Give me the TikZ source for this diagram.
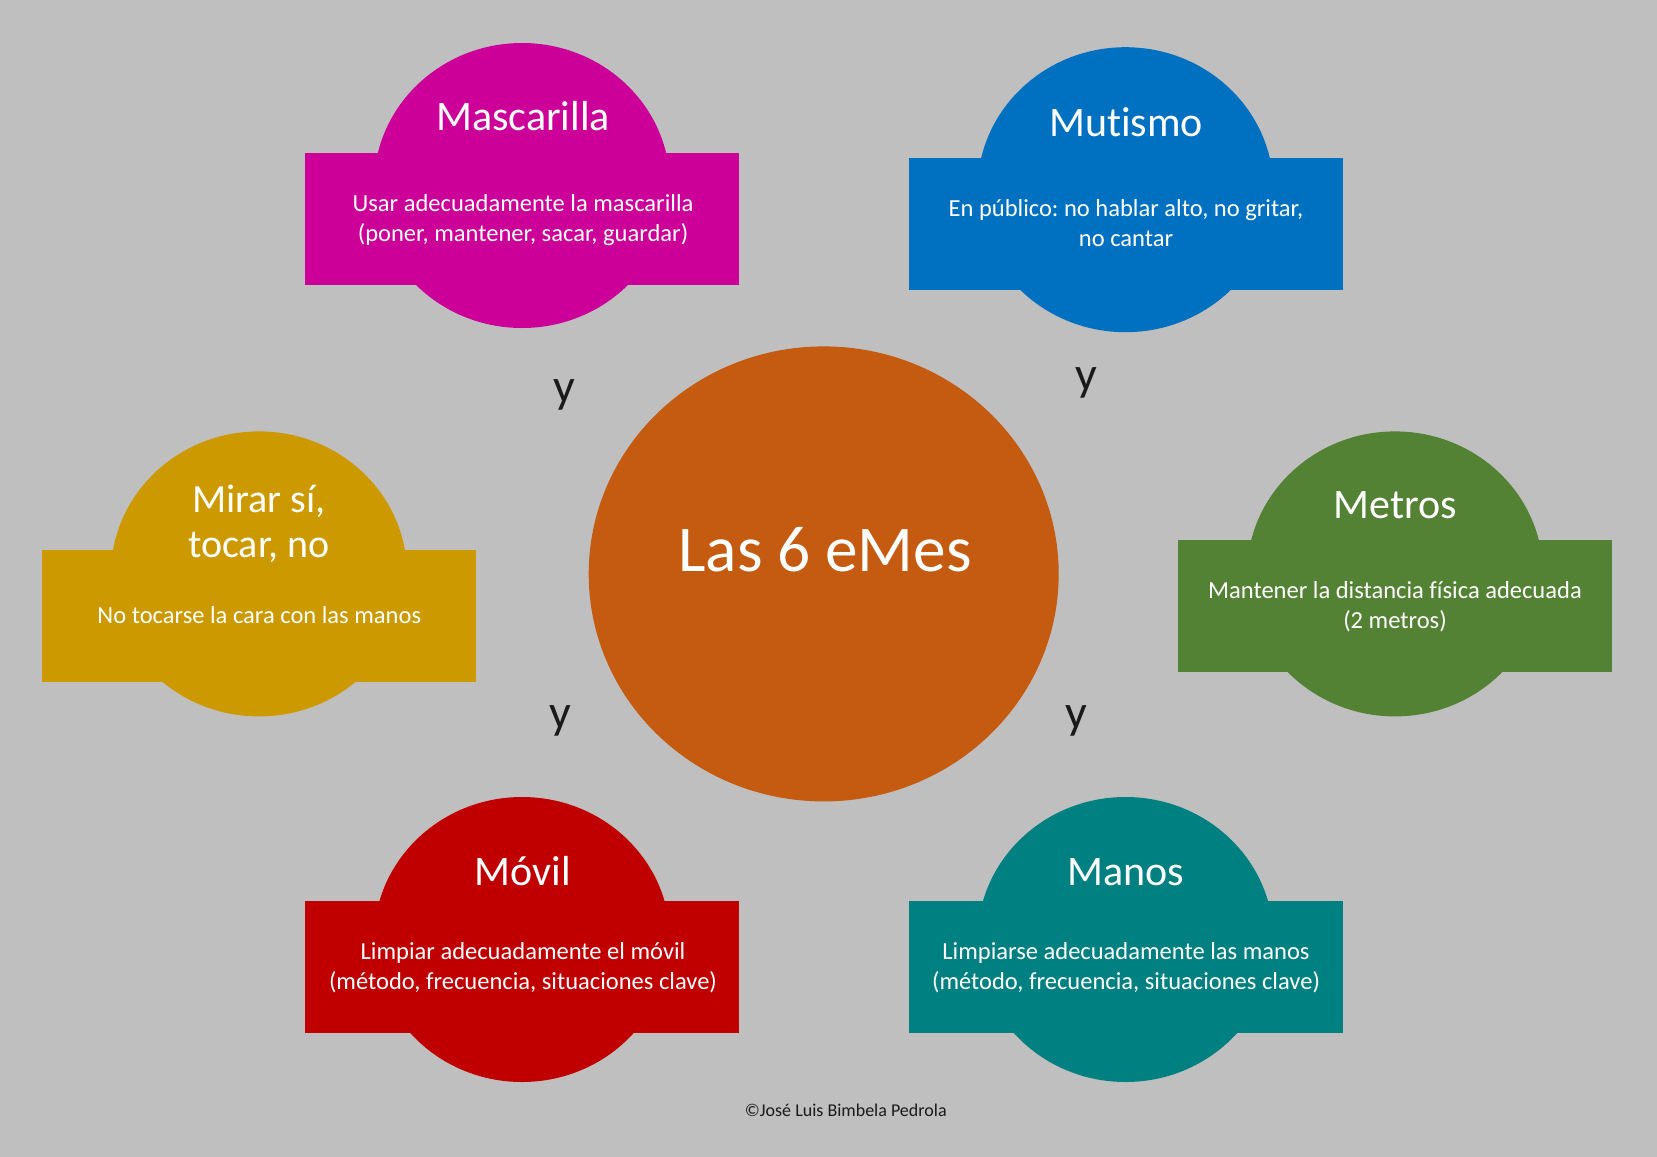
\documentclass[tikz,border=0pt]{standalone}
\usepackage{fontspec}
\setmainfont[Ligatures={NoCommon}]{Carlito}
\frenchspacing
\usetikzlibrary{shapes.geometric}
\definecolor{bgc}{HTML}{BFBFBF}
\definecolor{cmasc}{HTML}{CC0099}
\definecolor{cmut}{HTML}{0070C0}
\definecolor{cmir}{HTML}{CC9900}
\definecolor{cmet}{HTML}{548235}
\definecolor{cmov}{HTML}{C00000}
\definecolor{cman}{HTML}{008080}
\definecolor{ccen}{HTML}{C55A11}
\definecolor{ctxt}{HTML}{1A1A1A}
\newcommand\emcard[5]{% name, colour, cx, cy ellipse, rect cy
  \node[blob, fill=#2] (#1c) at (#3,#4) {};
  \node[cardbox, fill=#2] (#1r) at (#3,#5) {};
}
\begin{document}
\begin{tikzpicture}[x=0.75pt,y=-0.75pt,
  blob/.style={ellipse, draw=none, inner sep=0pt, outer sep=0pt, minimum width=222pt, minimum height=213.75pt},
  cardbox/.style={rectangle, draw=none, inner sep=0pt, outer sep=0pt, minimum width=325.5pt, minimum height=99pt},
  ttl/.style={anchor=base, text=white, inner sep=0pt, font=\fontsize{31.5pt}{37pt}\selectfont},
  ttlb/.style={anchor=base, text=white, inner sep=0pt, font=\fontsize{30pt}{34pt}\selectfont},
  bdy/.style={anchor=base, text=white, inner sep=0pt, font=\fontsize{18.4pt}{22pt}\selectfont},
  conj/.style={anchor=base, text=ctxt, inner sep=0pt, font=\fontsize{36pt}{40pt}\selectfont},
]
\fill[bgc] (0,0) rectangle (1657,1157);
\useasboundingbox (0,0) rectangle (1657,1157);

% centre
\node[ellipse, fill=ccen, inner sep=0pt, minimum width=352.5pt, minimum height=341.25pt] (centre) at (823.7,573.9) {};
\node[anchor=base, text=white, inner sep=0pt, font=\fontsize{49pt}{56pt}\selectfont] (centret) at (825,571.7) {Las 6 eMes};

% Mascarilla
\emcard{masc}{cmasc}{522}{185.5}{219}
\node[ttl] (masct) at (523,130) {Mascarilla};
\node[bdy] (mascb1) at (523,211.7) {Usar adecuadamente la mascarilla};
\node[bdy] (mascb2) at (523,241.7) {(poner, mantener, sacar, guardar)};

% Mutismo
\emcard{mut}{cmut}{1125.5}{189.7}{224}
\node[ttl] (mutt) at (1126,136) {Mutismo};
\node[bdy] (mutb1) at (1126,216.7) {En público: no hablar alto, no gritar,};
\node[bdy] (mutb2) at (1126,246.7) {no cantar};

% Mirar
\emcard{mir}{cmir}{259}{573.9}{615.9}
\node[ttlb] (mirt1) at (259,512.3) {Mirar sí,};
\node[ttlb] (mirt2) at (259,557.7) {tocar, no};
\node[bdy] (mirb) at (259.3,623.3) {No tocarse la cara con las manos};

% Metros
\emcard{met}{cmet}{1395}{573.9}{606}
\node[ttl] (mett) at (1395,518.7) {Metros};
\node[bdy] (metb1) at (1395,598.7) {Mantener la distancia física adecuada};
\node[bdy] (metb2) at (1395,628.7) {(2 metros)};

% Movil
\emcard{mov}{cmov}{522}{939.5}{967}
\node[ttl] (movt) at (523,885.4) {Móvil};
\node[bdy] (movb1) at (523,959.7) {Limpiar adecuadamente el móvil};
\node[bdy] (movb2) at (523,989.7) {(método, frecuencia, situaciones clave)};

% Manos
\emcard{man}{cman}{1125.5}{939.5}{967}
\node[ttl] (mant) at (1126,885.4) {Manos};
\node[bdy] (manb1) at (1126,959.7) {Limpiarse adecuadamente las manos};
\node[bdy] (manb2) at (1126,989.7) {(método, frecuencia, situaciones clave)};

% conjunctions
\node[conj] (y1) at (564,402) {y};
\node[conj] (y2) at (1086,390.3) {y};
\node[conj] (y3) at (560.7,728.1) {y};
\node[conj] (y4) at (1076.4,728.1) {y};

% copyright
\node[anchor=base, text=ctxt, inner sep=0pt, font=\fontsize{13.5pt}{16pt}\selectfont] (copy) at (845.8,1116.7) {©José Luis Bimbela Pedrola};
\end{tikzpicture}
\end{document}
